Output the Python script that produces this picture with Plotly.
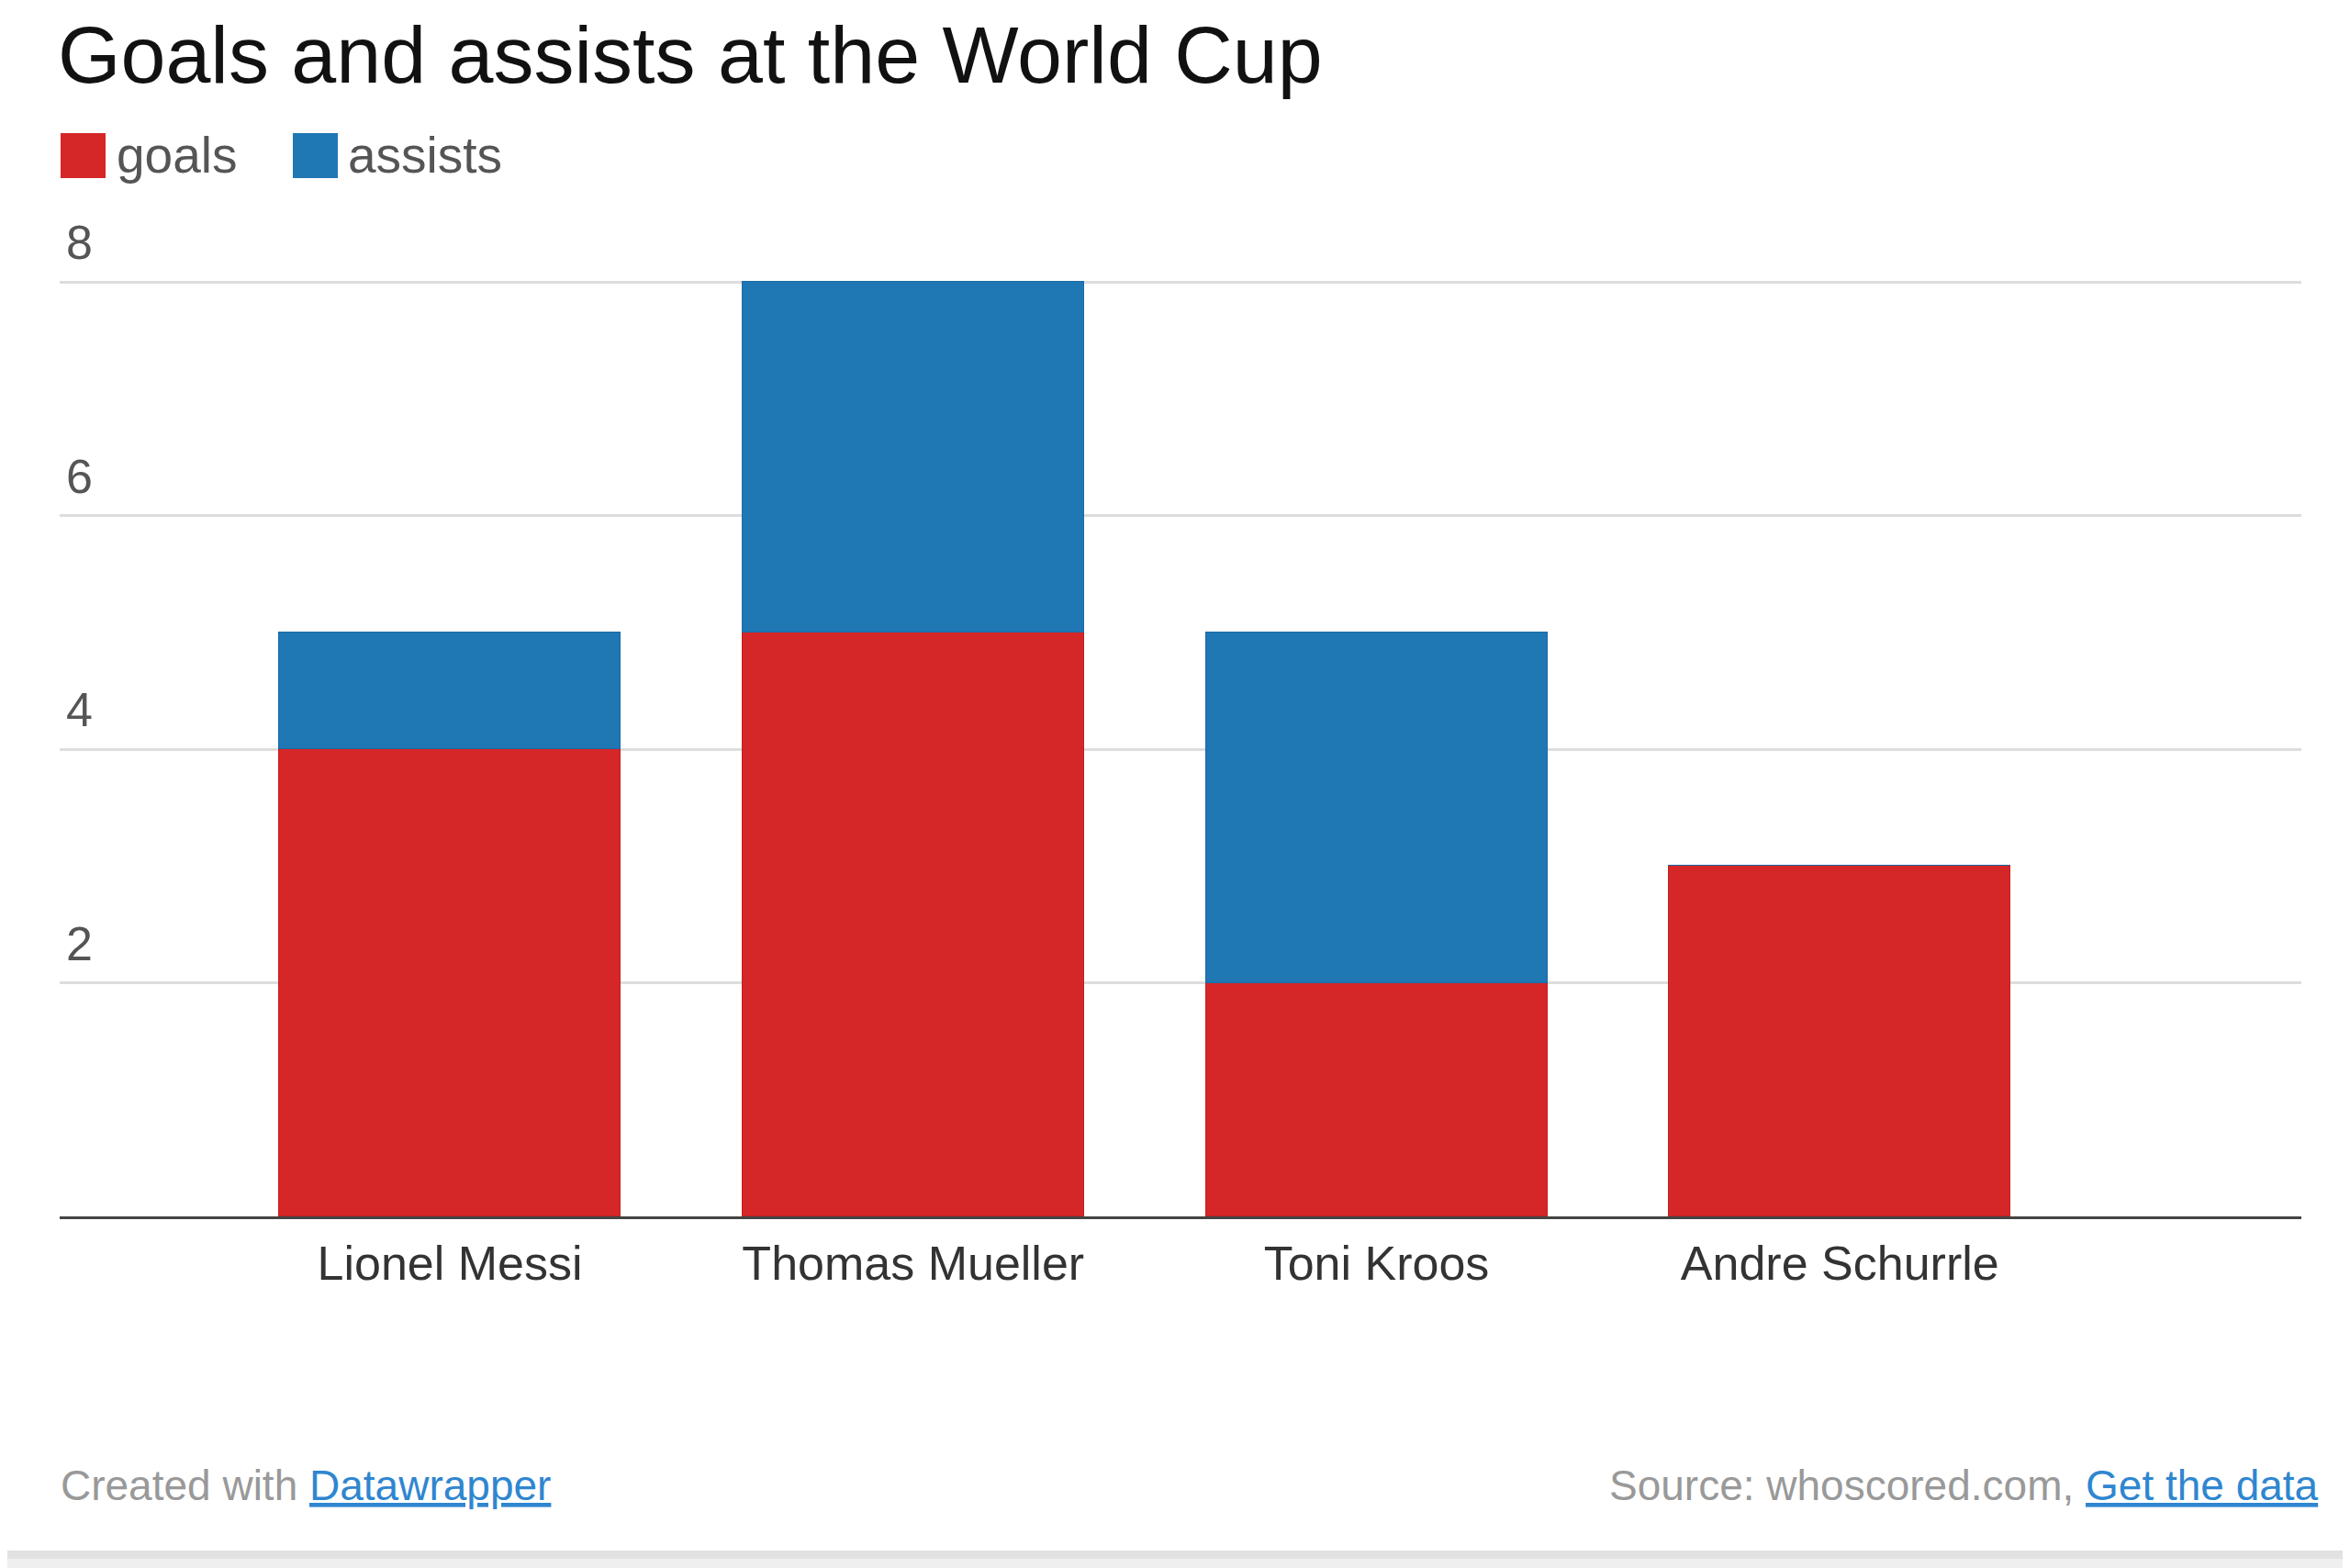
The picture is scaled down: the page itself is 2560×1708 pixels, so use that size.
import plotly.graph_objects as go

# ---- data ----
players = ["Lionel Messi", "Thomas Mueller", "Toni Kroos", "Andre Schurrle"]
goals = [4, 5, 2, 3]
assists = [1, 3, 3, 0]
y_tick_values = [2, 4, 6, 8]
y_tick_labels = ["2", "4", "6", "8"]
series_names = ["goals", "assists"]
title_text = "Goals and assists at the World Cup"
footer_left = "Created with "
footer_left_link = "Datawrapper"
footer_right = "Source: whoscored.com, "
footer_right_link = "Get the data"

# ---- style ----
RED = "#d62728"
BLUE = "#1f77b4"
RED_EDGE = "#c21f1f"
BLUE_EDGE = "#1b6aa3"
LINK = "#2f86d0"
FONT = "Liberation Sans, Arial, Helvetica, sans-serif"

OFF = 8  # browser body margin
W, H = 2560 - OFF, 1708 - OFF
PL, PR, PT, PB = 65, 2507, 306, 1325  # plot area in page pixels


def px(x):
    return (x - PL) / (PR - PL)


def py(y):
    return (PB - y) / (PB - PT)


fig = go.Figure()
fig.add_trace(go.Bar(x=players, y=goals, name=series_names[0], width=0.737,
                     marker=dict(color=RED, line=dict(color=RED_EDGE, width=1.5)),
                     showlegend=False))
fig.add_trace(go.Bar(x=players, y=assists, name=series_names[1], width=0.737,
                     marker=dict(color=BLUE, line=dict(color=BLUE_EDGE, width=1.5)),
                     showlegend=False))

annotations = []
# title (kept fully inside the page)
annotations.append(dict(text=title_text, xref="paper", yref="paper", x=px(62), y=py(OFF + 1),
                        xanchor="left", yanchor="top", showarrow=False, borderpad=0,
                        font=dict(family=FONT, size=88, color="#111111")))
# legend text
annotations.append(dict(text=series_names[0], xref="paper", yref="paper", x=px(125), y=py(169),
                        xanchor="left", yanchor="middle", showarrow=False,
                        font=dict(family=FONT, size=55, color="#555555")))
annotations.append(dict(text=series_names[1], xref="paper", yref="paper", x=px(377), y=py(169),
                        xanchor="left", yanchor="middle", showarrow=False,
                        font=dict(family=FONT, size=55, color="#555555")))
# y tick labels above gridlines
for v, lab in zip(y_tick_values, y_tick_labels):
    annotations.append(dict(text=lab, xref="paper", yref="y", x=px(70), y=v,
                            xanchor="left", yanchor="bottom", yshift=12, showarrow=False,
                            font=dict(family=FONT, size=52, color="#555555")))
# footer
annotations.append(dict(text=footer_left + '<span style="color:%s"><u>%s</u></span>' % (LINK, footer_left_link),
                        xref="paper", yref="paper", x=px(64), y=py(1618),
                        xanchor="left", yanchor="middle", showarrow=False,
                        font=dict(family=FONT, size=46, color="#999999")))
annotations.append(dict(text=footer_right + '<span style="color:%s"><u>%s</u></span>' % (LINK, footer_right_link),
                        xref="paper", yref="paper", x=px(2528), y=py(1618),
                        xanchor="right", yanchor="middle", showarrow=False,
                        font=dict(family=FONT, size=46, color="#999999")))

shapes = [
    # card shadow
    dict(type="rect", xref="paper", yref="paper", x0=px(0), x1=px(2560), y0=py(1708), y1=py(1689),
         fillcolor="#e2e2e2", line=dict(width=0), layer="below"),
    dict(type="rect", xref="paper", yref="paper", x0=px(0), x1=px(2560), y0=py(1708), y1=py(1698),
         fillcolor="#efefef", line=dict(width=0), layer="below"),
    # legend squares
    dict(type="rect", xref="paper", yref="paper", x0=px(66), x1=px(115), y0=py(194), y1=py(145),
         fillcolor=RED, line=dict(width=0)),
    dict(type="rect", xref="paper", yref="paper", x0=px(319), x1=px(368), y0=py(194), y1=py(145),
         fillcolor=BLUE, line=dict(width=0)),
]

fig.update_layout(
    width=W, height=H,
    margin=dict(l=PL - OFF, r=2560 - PR, t=PT - OFF, b=1708 - PB, pad=0),
    paper_bgcolor="white", plot_bgcolor="rgba(0,0,0,0)",
    barmode="stack", bargap=0,
    font=dict(family=FONT, size=52, color="#333333"),
    annotations=annotations, shapes=shapes,
    xaxis=dict(type="category", range=[-0.842, 3.996], showgrid=False,
               showline=True, linecolor="#444444", linewidth=3,
               ticks="", ticklabelstandoff=4,
               tickfont=dict(family=FONT, size=52, color="#333333"), fixedrange=True),
    yaxis=dict(range=[0, 8.01], tickvals=y_tick_values, showticklabels=False,
               showgrid=True, gridcolor="#dddddd", gridwidth=3, zeroline=False,
               showline=False, fixedrange=True),
)

fig.write_html("out.html")
